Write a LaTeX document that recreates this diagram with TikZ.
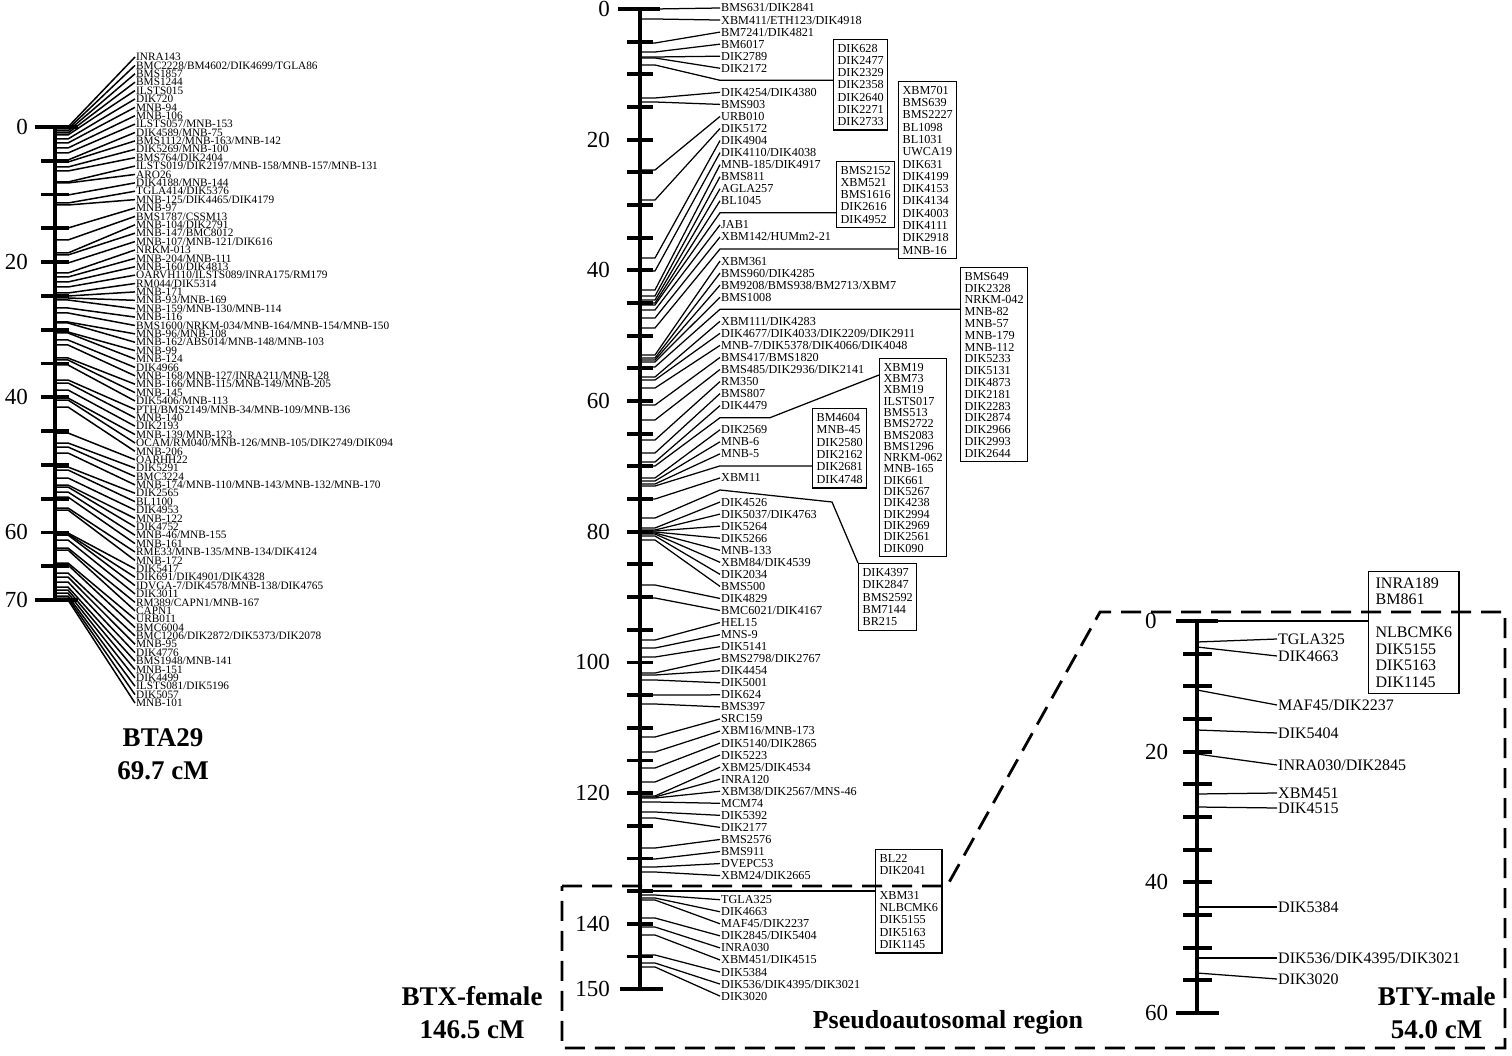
\documentclass[tikz,border=0pt]{standalone}
\usepackage{fontspec}
\setmainfont{Liberation Serif}
\usepackage{tikz}

% left map: index, position on the axis, name
\newcommand{\lmark}[3]{%
  \coordinate (la#1) at (55,#2);
  \node[lmk] (lt#1) at (135,{57+(#1-1)*8.39}) {#3};
  \draw[llink] (la#1) -- ++(13,0) -- (lt#1.west);
}
% BTX map: slot, position on the axis, name
\newcommand{\mmark}[3]{%
  \coordinate (ma#1) at (640,#2);
  \node[mmk] (mt#1) at (720,{8+#1*12.05}) {#3};
  \draw[mlink] (ma#1) -- ++(15,0) -- (mt#1.west);
}
% BTX map: slot that runs to a box
\newcommand{\mslot}[2]{%
  \coordinate (ma#1) at (640,#2);
  \coordinate (mt#1) at (720,{8+#1*12.05});
}
% BTY map: index, position on the axis, label height, name
\newcommand{\ymark}[4]{%
  \coordinate (ya#1) at (1197,#2);
  \node[ymk] (yt#1) at (1277,#3) {#4};
  \draw[mlink] (ya#1) -- (yt#1.west);
}

\tikzset{
  axisline/.style={line width=3.5pt},
  tickmark/.style={line width=3.8pt},
  lmk/.style={anchor=west, inner sep=1pt, font=\fontsize{11.3}{11}\selectfont},
  llink/.style={line width=1.5pt},
  mmk/.style={anchor=west, inner sep=1pt, font=\fontsize{12.2}{12}\selectfont},
  mlink/.style={line width=1.25pt},
  ymk/.style={anchor=west, inner sep=1pt, font=\fontsize{16}{16}\selectfont},
  cmnum/.style={inner sep=0pt, font=\fontsize{23}{23}\selectfont},
  markbox/.style={draw, line width=1.3pt, align=left, anchor=north west,
    inner xsep=4pt, inner ysep=4.5pt},
  pardash/.style={line width=2.8pt, dash pattern=on 20pt off 10pt},
  maptitle/.style={align=center, font=\fontsize{27}{33}\selectfont\bfseries},
}

\begin{document}
\begin{tikzpicture}[x=1pt,y=-1pt]
 \path[fill=white] (0,0) rectangle (1512,1056);

 %%%%%%%%%%%%%%%%%%%% BTA29
 \draw[axisline] (55,127) -- (55,600);
 \foreach \t in {1,...,13}
   \draw[tickmark] (41,{127+\t*33.79}) -- (69,{127+\t*33.79});
 \draw[tickmark] (35,127) -- (78,127);
 \draw[tickmark] (35,600) -- (78,600);
 \node[cmnum, anchor=east] (l0) at (28,127) {0};
 \node[cmnum, anchor=east] (l20) at (28,262.1) {20};
 \node[cmnum, anchor=east] (l40) at (28,397.3) {40};
 \node[cmnum, anchor=east] (l60) at (28,532.4) {60};
 \node[cmnum, anchor=east] (l70) at (28,600) {70};

 \lmark{1}{127}{INRA143}
 \lmark{2}{129}{BMC2228/BM4602/DIK4699/TGLA86}
 \lmark{3}{131}{BMS1857}
 \lmark{4}{133}{BMS1244}
 \lmark{5}{135}{ILSTS015}
 \lmark{6}{139}{DIK720}
 \lmark{7}{143}{MNB-94}
 \lmark{8}{148}{MNB-106}
 \lmark{9}{153}{ILSTS057/MNB-153}
 \lmark{10}{160}{DIK4589/MNB-75}
 \lmark{11}{162}{BMS1112/MNB-163/MNB-142}
 \lmark{12}{167}{DIK5269/MNB-100}
 \lmark{13}{171}{BMS764/DIK2404}
 \lmark{14}{182}{ILSTS019/DIK2197/MNB-158/MNB-157/MNB-131}
 \lmark{15}{183}{ARO26}
 \lmark{16}{195}{DIK4188/MNB-144}
 \lmark{17}{203}{TGLA414/DIK5376}
 \lmark{18}{205}{MNB-125/DIK4465/DIK4179}
 \lmark{19}{228}{MNB-97}
 \lmark{20}{240}{BMS1787/CSSM13}
 \lmark{21}{253}{MNB-104/DIK2791}
 \lmark{22}{255}{MNB-147/BMC8012}
 \lmark{23}{263}{MNB-107/MNB-121/DIK616}
 \lmark{24}{273}{NRKM-013}
 \lmark{25}{277}{MNB-204/MNB-111}
 \lmark{26}{282}{MNB-160/DIK4813}
 \lmark{27}{287}{OARVH110/ILSTS089/INRA175/RM179}
 \lmark{28}{293}{RM044/DIK5314}
 \lmark{29}{296}{MNB-171}
 \lmark{30}{298}{MNB-93/MNB-169}
 \lmark{31}{300}{MNB-159/MNB-130/MNB-114}
 \lmark{32}{308}{MNB-116}
 \lmark{33}{313}{BMS1600/NRKM-034/MNB-164/MNB-154/MNB-150}
 \lmark{34}{322}{MNB-96/MNB-108}
 \lmark{35}{323}{MNB-162/ABS014/MNB-148/MNB-103}
 \lmark{36}{332}{MNB-99}
 \lmark{37}{333}{MNB-124}
 \lmark{38}{340}{DIK4966}
 \lmark{39}{345}{MNB-168/MNB-127/INRA211/MNB-128}
 \lmark{40}{358}{MNB-166/MNB-115/MNB-149/MNB-205}
 \lmark{41}{360}{MNB-145}
 \lmark{42}{365}{DIK5406/MNB-113}
 \lmark{43}{380}{PTH/BMS2149/MNB-34/MNB-109/MNB-136}
 \lmark{44}{383}{MNB-140}
 \lmark{45}{390}{DIK2193}
 \lmark{46}{398}{MNB-139/MNB-123}
 \lmark{47}{400}{OCAM/RM040/MNB-126/MNB-105/DIK2749/DIK094}
 \lmark{48}{407}{MNB-206}
 \lmark{49}{433}{OARHH22}
 \lmark{50}{443}{DIK5291}
 \lmark{51}{447}{BMC3224}
 \lmark{52}{453}{MNB-174/MNB-110/MNB-143/MNB-132/MNB-170}
 \lmark{53}{467}{DIK2565}
 \lmark{54}{470}{BL1100}
 \lmark{55}{478}{DIK4953}
 \lmark{56}{485}{MNB-122}
 \lmark{57}{487}{DIK4752}
 \lmark{58}{492}{MNB-46/MNB-155}
 \lmark{59}{497}{MNB-161}
 \lmark{60}{508}{RME33/MNB-135/MNB-134/DIK4124}
 \lmark{61}{510}{MNB-172}
 \lmark{62}{533}{DIK5417}
 \lmark{63}{534}{DIK691/DIK4901/DIK4328}
 \lmark{64}{535}{IDVGA-7/DIK4578/MNB-138/DIK4765}
 \lmark{65}{540}{DIK3011}
 \lmark{66}{548}{RM389/CAPN1/MNB-167}
 \lmark{67}{550}{CAPN1}
 \lmark{68}{563}{URB011}
 \lmark{69}{565}{BMC6004}
 \lmark{70}{573}{BMC1206/DIK2872/DIK5373/DIK2078}
 \lmark{71}{577}{MNB-95}
 \lmark{72}{582}{DIK4776}
 \lmark{73}{587}{BMS1948/MNB-141}
 \lmark{74}{590}{MNB-151}
 \lmark{75}{593}{DIK4499}
 \lmark{76}{596}{ILSTS081/DIK5196}
 \lmark{77}{598}{DIK5057}
 \lmark{78}{600}{MNB-101}

 \node[maptitle] (bta) at (163,754) {BTA29\\69.7 cM};

 %%%%%%%%%%%%%%%%%%%% BTX-female
 \draw[axisline] (640,9) -- (640,989);
 \foreach \t in {1,...,29}
   \draw[tickmark] (627,{9+\t*32.67}) -- (653,{9+\t*32.67});
 \draw[tickmark] (618,9) -- (660,9);
 \draw[tickmark] (620,989) -- (663,989);
 \node[cmnum, anchor=east] (m0) at (610,9) {0};
 \node[cmnum, anchor=east] (m20) at (610,139.7) {20};
 \node[cmnum, anchor=east] (m40) at (610,270.3) {40};
 \node[cmnum, anchor=east] (m60) at (610,401) {60};
 \node[cmnum, anchor=east] (m80) at (610,531.6) {80};
 \node[cmnum, anchor=east] (m100) at (610,662.3) {100};
 \node[cmnum, anchor=east] (m120) at (610,793) {120};
 \node[cmnum, anchor=east] (m140) at (610,923.6) {140};
 \node[cmnum, anchor=east] (m150) at (610,989) {150};

 \mmark{0}{9}{BMS631/DIK2841}
 \mmark{1}{19}{XBM411/ETH123/DIK4918}
 \mmark{2}{43}{BM7241/DIK4821}
 \mmark{3}{52}{BM6017}
 \mmark{4}{57}{DIK2789}
 \mmark{5}{58}{DIK2172}
 \mslot{6}{65}
 \mmark{7}{98}{DIK4254/DIK4380}
 \mmark{8}{102}{BMS903}
 \mmark{9}{170}{URB010}
 \mmark{10}{200}{DIK5172}
 \mmark{11}{258}{DIK4904}
 \mmark{12}{271}{DIK4110/DIK4038}
 \mmark{13}{290}{MNB-185/DIK4917}
 \mmark{14}{296}{BMS811}
 \mmark{15}{300}{AGLA257}
 \mmark{16}{303}{BL1045}
 \mslot{17}{305}
 \mmark{18}{310}{JAB1}
 \mmark{19}{318}{XBM142/HUMm2-21}
 \mslot{20}{328}
 \mmark{21}{355}{XBM361}
 \mmark{22}{358}{BMS960/DIK4285}
 \mmark{23}{360}{BM9208/BMS938/BM2713/XBM7}
 \mmark{24}{362}{BMS1008}
 \mslot{25}{367}
 \mmark{26}{377}{XBM111/DIK4283}
 \mmark{27}{380}{DIK4677/DIK4033/DIK2209/DIK2911}
 \mmark{28}{388}{MNB-7/DIK5378/DIK4066/DIK4048}
 \mmark{29}{405}{BMS417/BMS1820}
 \mmark{30}{420}{BMS485/DIK2936/DIK2141}
 \mmark{31}{440}{RM350}
 \mmark{32}{453}{BMS807}
 \mmark{33}{462}{DIK4479}
 \mslot{34}{466}
 \mmark{35}{478}{DIK2569}
 \mmark{36}{481}{MNB-6}
 \mmark{37}{484}{MNB-5}
 \mslot{38}{486}
 \mmark{39}{499}{XBM11}
 \mslot{40}{518}
 \mmark{41}{528}{DIK4526}
 \mmark{42}{530}{DIK5037/DIK4763}
 \mmark{43}{531}{DIK5264}
 \mmark{44}{532}{DIK5266}
 \mmark{45}{533}{MNB-133}
 \mmark{46}{534}{XBM84/DIK4539}
 \mmark{47}{536}{DIK2034}
 \mmark{48}{540}{BMS500}
 \mmark{49}{585}{DIK4829}
 \mmark{50}{598}{BMC6021/DIK4167}
 \mmark{51}{640}{HEL15}
 \mmark{52}{648}{MNS-9}
 \mmark{53}{657}{DIK5141}
 \mmark{54}{673}{BMS2798/DIK2767}
 \mmark{55}{675}{DIK4454}
 \mmark{56}{680}{DIK5001}
 \mmark{57}{695}{DIK624}
 \mmark{58}{704}{BMS397}
 \mmark{59}{737}{SRC159}
 \mmark{60}{752}{XBM16/MNB-173}
 \mmark{61}{768}{DIK5140/DIK2865}
 \mmark{62}{782}{DIK5223}
 \mmark{63}{796}{XBM25/DIK4534}
 \mmark{64}{797}{INRA120}
 \mmark{65}{798}{XBM38/DIK2567/MNS-46}
 \mmark{66}{802}{MCM74}
 \mmark{67}{812}{DIK5392}
 \mmark{68}{818}{DIK2177}
 \mmark{69}{848}{BMS2576}
 \mmark{70}{859}{BMS911}
 \mmark{71}{867}{DVEPC53}
 \mmark{72}{872}{XBM24/DIK2665}
 \mslot{73}{891}
 \mmark{74}{895}{TGLA325}
 \mmark{75}{898}{DIK4663}
 \mmark{76}{900}{MAF45/DIK2237}
 \mmark{77}{918}{DIK2845/DIK5404}
 \mmark{78}{927}{INRA030}
 \mmark{79}{935}{XBM451/DIK4515}
 \mmark{80}{955}{DIK5384}
 \mmark{81}{963}{DIK536/DIK4395/DIK3021}
 \mmark{82}{967}{DIK3020}

 % boxes of markers at one position
 \node[markbox, font=\fontsize{12.2}{12.2}\selectfont] (bxa) at (833,39)
   {DIK628\\DIK2477\\DIK2329\\DIK2358\\DIK2640\\DIK2271\\DIK2733};
 \node[markbox, font=\fontsize{12.2}{12.3}\selectfont] (bxb) at (898,81)
   {XBM701\\BMS639\\BMS2227\\BL1098\\BL1031\\UWCA19\\DIK631\\DIK4199\\DIK4153\\DIK4134\\DIK4003\\DIK4111\\DIK2918\\MNB-16};
 \node[markbox, font=\fontsize{12.2}{12.2}\selectfont] (bxc) at (836,161)
   {BMS2152\\XBM521\\BMS1616\\DIK2616\\DIK4952};
 \node[markbox, font=\fontsize{12.2}{11.8}\selectfont] (bxd) at (960,267)
   {BMS649\\DIK2328\\NRKM-042\\MNB-82\\MNB-57\\MNB-179\\MNB-112\\DIK5233\\DIK5131\\DIK4873\\DIK2181\\DIK2283\\DIK2874\\DIK2966\\DIK2993\\DIK2644};
 \node[markbox, font=\fontsize{12.2}{11.3}\selectfont] (bxe) at (879,358)
   {XBM19\\XBM73\\XBM19\\ILSTS017\\BMS513\\BMS2722\\BMS2083\\BMS1296\\NRKM-062\\MNB-165\\DIK661\\DIK5267\\DIK4238\\DIK2994\\DIK2969\\DIK2561\\DIK090};
 \node[markbox, font=\fontsize{12.2}{12.4}\selectfont] (bxf) at (812,408)
   {BM4604\\MNB-45\\DIK2580\\DIK2162\\DIK2681\\DIK4748};
 \node[markbox, font=\fontsize{12.2}{12.4}\selectfont] (bxg) at (858,563)
   {DIK4397\\DIK2847\\BMS2592\\BM7144\\BR215};
 \node[markbox, font=\fontsize{12.2}{12.3}\selectfont] (bxh) at (875,849)
   {BL22\\DIK2041\\[12.3pt]XBM31\\NLBCMK6\\DIK5155\\DIK5163\\DIK1145};

 \draw[mlink] (ma6) -- ++(15,0) -- (mt6) -- (bxa.west |- mt6);
 \draw[mlink] (ma17) -- ++(15,0) -- (mt17) -- (bxc.west |- mt17);
 \draw[mlink] (ma20) -- ++(15,0) -- (mt20) -- (bxb.west |- mt20);
 \draw[mlink] (ma25) -- ++(15,0) -- (mt25) -- (bxd.west |- mt25);
 \draw[mlink] (ma34) -- ++(15,0) -- (mt34) -- ++(50,0) -- ([yshift=-17pt]bxe.north west);
 \draw[mlink] (ma38) -- ++(15,0) -- (mt38) -- (bxf.west |- mt38);
 \draw[mlink] (ma40) -- ++(15,0) -- (mt40) -- ++(112,12) -- (bxg.north west);
 \draw[mlink] (ma73) -- (bxh.west |- ma73);

 \node[maptitle] (btx) at (472,1013) {BTX-female\\146.5 cM};

 %%%%%%%%%%%%%%%%%%%% BTY-male
 \draw[axisline] (1197,621) -- (1197,1013);
 \foreach \t in {1,...,11}
   \draw[tickmark] (1183,{621+\t*32.67}) -- (1212,{621+\t*32.67});
 \draw[tickmark] (1176,621) -- (1218,621);
 \draw[tickmark] (1176,1013) -- (1219,1013);
 \node[cmnum, anchor=west] (y0) at (1145,621) {0};
 \node[cmnum, anchor=west] (y20) at (1145,751.7) {20};
 \node[cmnum, anchor=west] (y40) at (1145,882.3) {40};
 \node[cmnum, anchor=west] (y60) at (1145,1013) {60};

 \coordinate (ya0) at (1197,621);
 \ymark{1}{642}{639}{TGLA325}
 \ymark{2}{647}{656}{DIK4663}
 \ymark{3}{690}{705}{MAF45/DIK2237}
 \ymark{4}{730}{733}{DIK5404}
 \ymark{5}{754}{765}{INRA030/DIK2845}
 \ymark{6}{794}{793}{XBM451}
 \ymark{7}{807}{808}{DIK4515}
 \ymark{8}{907}{907}{DIK5384}
 \ymark{9}{958}{958}{DIK536/DIK4395/DIK3021}
 \ymark{10}{973}{979}{DIK3020}

 \node[markbox, inner xsep=7pt, inner ysep=6pt, font=\fontsize{16}{16.5}\selectfont] (bxy) at (1368,571)
   {INRA189\\BM861\\[16.5pt]NLBCMK6\\DIK5155\\DIK5163\\DIK1145};
 \draw[mlink] (ya0) -- (bxy.west |- ya0);

 \node[maptitle, anchor=east] (bty) at (1499,1013) {BTY-male\\54.0 cM};

 %%%%%%%%%%%%%%%%%%%% pseudoautosomal region
 \draw[pardash] (562,886) -- (947,886) -- (1100,612) -- (1505,612)
   -- (1505,1048) -- (562,1048) -- cycle;
 \node[font=\fontsize{26}{26}\selectfont\bfseries] (par) at (948,1022) {Pseudoautosomal region};
\end{tikzpicture}
\end{document}
